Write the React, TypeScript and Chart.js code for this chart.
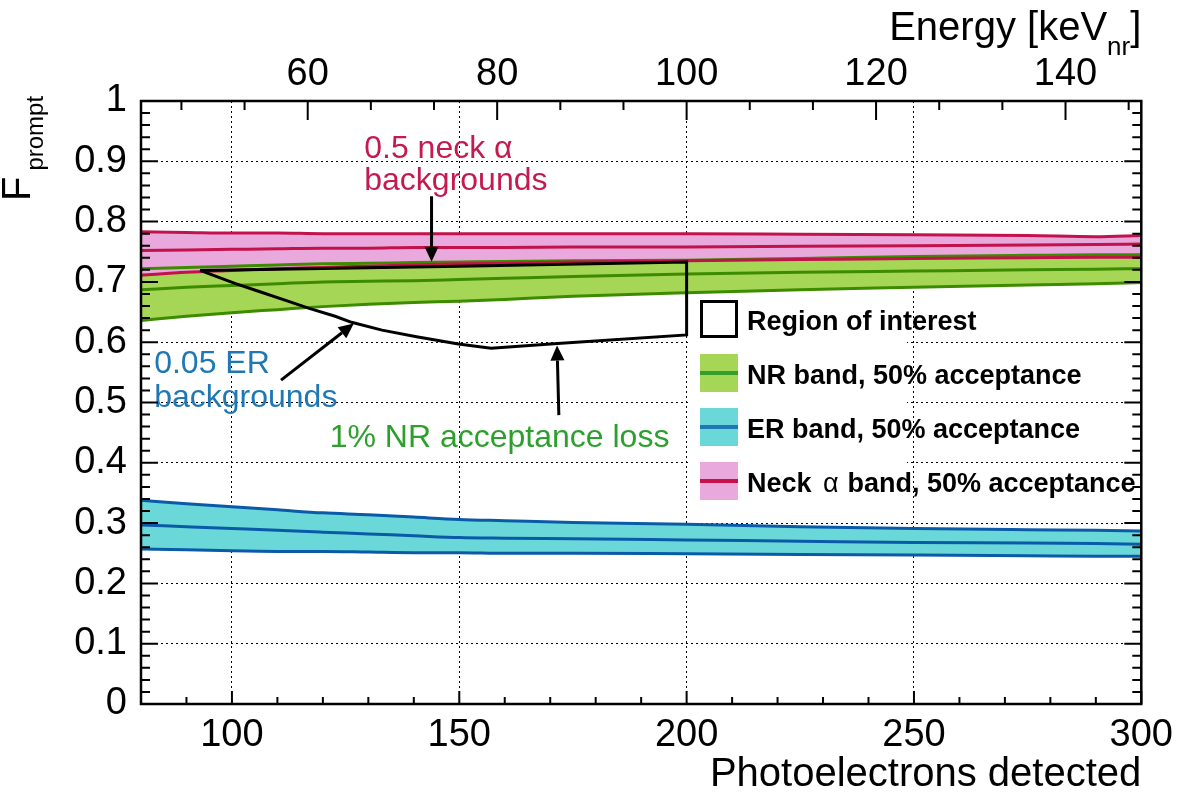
import React, { useEffect, useRef } from "react";
import { Chart, registerables } from "chart.js";
Chart.register(...registerables);

// ---------- data ----------
const PE = [80, 90, 100, 110, 120, 130, 140, 150, 160, 175, 200, 225, 250, 275, 290, 300];
const neckHi = [0.783, 0.782, 0.781, 0.781, 0.78, 0.78, 0.78, 0.78, 0.78, 0.78, 0.78, 0.779, 0.778, 0.777, 0.775, 0.777];
const neckMid = [0.752, 0.753, 0.754, 0.755, 0.756, 0.756, 0.757, 0.757, 0.757, 0.758, 0.758, 0.759, 0.76, 0.761, 0.762, 0.763];
const neckLo = [0.711, 0.716, 0.719, 0.722, 0.724, 0.726, 0.728, 0.73, 0.731, 0.733, 0.735, 0.737, 0.739, 0.74, 0.741, 0.741];
const nrHi = [0.722, 0.724, 0.726, 0.728, 0.73, 0.731, 0.732, 0.733, 0.734, 0.735, 0.736, 0.739, 0.742, 0.744, 0.745, 0.745];
const nrMid = [0.687, 0.691, 0.694, 0.697, 0.7, 0.701, 0.702, 0.704, 0.706, 0.709, 0.713, 0.716, 0.718, 0.72, 0.721, 0.722];
const nrLo = [0.636, 0.643, 0.649, 0.654, 0.659, 0.663, 0.666, 0.668, 0.671, 0.676, 0.682, 0.687, 0.691, 0.695, 0.697, 0.699];
const erHi = [0.338, 0.332, 0.327, 0.322, 0.317, 0.314, 0.31, 0.306, 0.304, 0.301, 0.298, 0.294, 0.291, 0.289, 0.288, 0.287];
const erMid = [0.297, 0.294, 0.291, 0.288, 0.285, 0.282, 0.279, 0.276, 0.275, 0.274, 0.272, 0.27, 0.268, 0.267, 0.266, 0.265];
const erLo = [0.257, 0.256, 0.254, 0.253, 0.253, 0.252, 0.251, 0.251, 0.25, 0.25, 0.249, 0.248, 0.247, 0.246, 0.245, 0.245];

const roiX = [93, 100.8, 106, 112.3, 117, 122.7, 126.3, 133, 140.6, 149.8, 157, 171.6, 200, 200, 150, 93];
const roiY = [0.719, 0.697, 0.684, 0.668, 0.656, 0.643, 0.633, 0.62, 0.609, 0.597, 0.59, 0.598, 0.612, 0.733, 0.726, 0.719];

const xTicks = [100, 150, 200, 250, 300];
const yTicks = [0, 0.1, 0.2, 0.3, 0.4, 0.5, 0.6, 0.7, 0.8, 0.9, 1];
const energyTicks = [60, 80, 100, 120, 140];
const X_MIN = 80;
const X_MAX = 300;
const X_MINOR = 10;
const Y_MINOR = 0.02;
const E_MINOR = 20 / 3;
const toEnergy = (pe: number) => 100 + (pe - 200) * 0.48;

// arrows: [xFrom, yFrom, xTo, yTo]
const arrowNeck = [143.9, 0.842, 143.9, 0.7335];
const arrowER = [110.8, 0.537, 126.8, 0.631];
const arrowNR = [171.9, 0.479, 171.5, 0.5945];

const annotations = [
  { text: "0.5 neck \u03b1", x: 129.1, y: 0.905, color: "#c41a50" },
  { text: "backgrounds", x: 129.1, y: 0.852, color: "#c41a50" },
  { text: "0.05 ER", x: 82.9, y: 0.549, color: "#1f78b4" },
  { text: "backgrounds", x: 82.9, y: 0.493, color: "#1f78b4" },
  { text: "1% NR acceptance loss", x: 121.5, y: 0.426, color: "#2ca02c" },
];

const FONT = "'Liberation Sans', Arial, sans-serif";

const pts = (ys: number[]) => PE.map((x, i) => ({ x, y: ys[i] }));

const C = {
  neckFill: "#eaa9dd",
  neckLine: "#c2124c",
  nrFill: "#a6d655",
  nrLine: "#3d8c00",
  erFill: "#6ad8d8",
  erLine: "#0b5aa8",
};

const smooth = { cubicInterpolationMode: "monotone" as const };

const helper = (ys: number[], order: number) => ({
  data: pts(ys),
  borderWidth: 0,
  borderColor: "rgba(0,0,0,0)",
  pointRadius: 0,
  fill: false,
  order,
  ...smooth,
});
const filler = (ys: number[], target: number, color: string, order: number) => ({
  data: pts(ys),
  borderWidth: 0,
  borderColor: "rgba(0,0,0,0)",
  backgroundColor: color,
  pointRadius: 0,
  fill: { target },
  order,
  ...smooth,
});
const line = (ys: number[], color: string, order: number) => ({
  data: pts(ys),
  borderWidth: 3,
  borderColor: color,
  pointRadius: 0,
  fill: false,
  order,
  ...smooth,
});

function drawArrow(ctx: CanvasRenderingContext2D, x0: number, y0: number, x1: number, y1: number) {
  const ang = Math.atan2(y1 - y0, x1 - x0);
  const L = 15, W = 7;
  const bx = x1 - L * Math.cos(ang), by = y1 - L * Math.sin(ang);
  ctx.beginPath();
  ctx.moveTo(x0, y0);
  ctx.lineTo(bx, by);
  ctx.stroke();
  ctx.beginPath();
  ctx.moveTo(x1, y1);
  ctx.lineTo(bx + W * Math.sin(ang), by - W * Math.cos(ang));
  ctx.lineTo(bx - W * Math.sin(ang), by + W * Math.cos(ang));
  ctx.closePath();
  ctx.fill();
}

const overlayPlugin = {
  id: "overlay",
  afterDatasetsDraw(chart: any) {
    const ctx: CanvasRenderingContext2D = chart.ctx;
    const xs = chart.scales.x, ys = chart.scales.y;
    ctx.save();
    // arrows
    ctx.strokeStyle = "#000";
    ctx.fillStyle = "#000";
    ctx.lineWidth = 3;
    for (const a of [arrowNeck, arrowER, arrowNR]) {
      drawArrow(ctx, xs.getPixelForValue(a[0]), ys.getPixelForValue(a[1]), xs.getPixelForValue(a[2]), ys.getPixelForValue(a[3]));
    }
    // annotations
    ctx.font = `32px ${FONT}`;
    ctx.textAlign = "left";
    ctx.textBaseline = "alphabetic";
    for (const t of annotations) {
      ctx.fillStyle = t.color;
      ctx.fillText(t.text, xs.getPixelForValue(t.x), ys.getPixelForValue(t.y));
    }
    // legend
    ctx.fillStyle = "#fff";
    ctx.fillRect(690, 296, 217, 210);
    const rows = [
      { top: 300, label: "Region of interest", fill: null, line: null },
      { top: 354, label: "NR band, 50% acceptance", fill: C.nrFill, line: "#33a02c" },
      { top: 408, label: "ER band, 50% acceptance", fill: C.erFill, line: "#1f77b4" },
      { top: 462, label: "Neck", fill: C.neckFill, line: "#c8104a" },
    ];
    for (const r of rows) {
      if (r.fill) {
        ctx.fillStyle = r.fill;
        ctx.fillRect(700, r.top, 38, 38);
        ctx.fillStyle = r.line as string;
        ctx.fillRect(700, r.top + 17, 38, 4);
      } else {
        ctx.strokeStyle = "#000";
        ctx.lineWidth = 3;
        ctx.strokeRect(701.5, r.top + 1.5, 35, 35);
      }
      ctx.fillStyle = "#000";
      ctx.font = `bold 27px ${FONT}`;
      const by = r.top + 30;
      ctx.fillText(r.label, 747, by);
      if (r.label === "Neck") {
        ctx.font = `27px ${FONT}`;
        ctx.fillText("\u03b1", 823, by);
        ctx.font = `bold 27px ${FONT}`;
        ctx.fillText(" band, 50% acceptance", 840, by);
      }
    }
    ctx.restore();
  },
  afterDraw(chart: any) {
    const ctx: CanvasRenderingContext2D = chart.ctx;
    const { left, right, top, bottom } = chart.chartArea;
    const xs = chart.scales.x, ys = chart.scales.y, es = chart.scales.x2;
    ctx.save();
    ctx.strokeStyle = "#000";
    ctx.lineWidth = 2;
    ctx.beginPath();
    // bottom ticks
    for (let v = X_MIN; v <= X_MAX + 1e-6; v += X_MINOR) {
      const p = xs.getPixelForValue(v);
      const major = Math.abs(v % 50) < 1e-6;
      const len = major ? 13 : 7;
      ctx.moveTo(p, bottom);
      ctx.lineTo(p, bottom - len);
    }
    // left/right ticks
    for (let k = 0; k <= 50; k++) {
      const v = k * Y_MINOR;
      const p = ys.getPixelForValue(v);
      const len = k % 5 === 0 ? 17 : 9;
      ctx.moveTo(left, p);
      ctx.lineTo(left + len, p);
      ctx.moveTo(right, p);
      ctx.lineTo(right - len, p);
    }
    // top energy ticks
    const eMin = toEnergy(X_MIN), eMax = toEnergy(X_MAX);
    for (let k = 0; k < 40; k++) {
      const e = 40 + k * E_MINOR;
      if (e < eMin || e > eMax) continue;
      const p = es.getPixelForValue(e);
      const major = Math.abs(e / 20 - Math.round(e / 20)) < 1e-6;
      const len = major ? 19 : 9;
      ctx.moveTo(p, top);
      ctx.lineTo(p, top + len);
    }
    ctx.stroke();
    // frame
    ctx.lineWidth = 2.5;
    ctx.strokeRect(left, top, right - left, bottom - top);
    // titles
    ctx.fillStyle = "#000";
    ctx.textBaseline = "alphabetic";
    ctx.font = `40px ${FONT}`;
    ctx.textAlign = "right";
    ctx.fillText("Photoelectrons detected", right, 786);
    // Energy title with subscript
    const main = "Energy [keV";
    ctx.textAlign = "left";
    const wB = ctx.measureText("]").width;
    const wMain = ctx.measureText(main).width;
    ctx.font = `26px ${FONT}`;
    const wNr = ctx.measureText("nr").width;
    const xB = right - wB;
    const xNr = xB - wNr;
    const xMain = xNr - wMain;
    ctx.fillText("nr", xNr, 55);
    ctx.font = `40px ${FONT}`;
    ctx.fillText(main, xMain, 40);
    ctx.fillText("]", xB, 40);
    // y title
    ctx.translate(30, 201);
    ctx.rotate(-Math.PI / 2);
    ctx.font = `40px ${FONT}`;
    ctx.fillText("F", 0, 0);
    const wF = ctx.measureText("F").width;
    ctx.font = `24px ${FONT}`;
    ctx.fillText("prompt", wF + 6, 13);
    ctx.restore();
  },
};

export default function App() {
  const ref = useRef<HTMLCanvasElement | null>(null);
  useEffect(() => {
    if (!ref.current) return;
    const tickFont = { family: FONT, size: 38 };
    const chart = new Chart(ref.current, {
      type: "line",
      data: {
        datasets: [
          helper(erHi, 100) as any,
          filler(erLo, 0, C.erFill, 100),
          helper(nrHi, 90),
          filler(nrLo, 2, C.nrFill, 90),
          helper(neckHi, 80),
          filler(neckLo, 4, C.neckFill, 80),
          line(erHi, C.erLine, 50),
          line(erMid, C.erLine, 50),
          line(erLo, C.erLine, 50),
          line(nrHi, C.nrLine, 45),
          line(nrMid, C.nrLine, 45),
          line(nrLo, C.nrLine, 45),
          line(neckHi, C.neckLine, 40),
          line(neckMid, C.neckLine, 40),
          line(neckLo, C.neckLine, 40),
          {
            data: roiX.map((x, i) => ({ x, y: roiY[i] })),
            borderColor: "#000",
            borderWidth: 3,
            pointRadius: 0,
            fill: false,
            order: 10,
          },
        ],
      },
      options: {
        animation: false,
        responsive: false,
        maintainAspectRatio: false,
        layout: { padding: { left: 0, right: 37, top: 0, bottom: 0 } },
        plugins: { legend: { display: false }, tooltip: { enabled: false } },
        elements: { line: { tension: 0 } },
        scales: {
          x: {
            type: "linear",
            position: "bottom",
            min: X_MIN,
            max: X_MAX,
            afterBuildTicks: (s: any) => { s.ticks = xTicks.map((value) => ({ value })); },
            afterFit: (s: any) => { s.height = 96; },
            ticks: { font: tickFont, color: "#000", padding: 9, maxRotation: 0, autoSkip: false },
            grid: { color: "#000", lineWidth: 1, drawTicks: false },
            border: { display: false, dash: [2, 3] },
          },
          x2: {
            type: "linear",
            position: "top",
            min: toEnergy(X_MIN),
            max: toEnergy(X_MAX),
            afterBuildTicks: (s: any) => { s.ticks = energyTicks.map((value) => ({ value })); },
            afterFit: (s: any) => { s.height = 101; },
            ticks: { font: tickFont, color: "#000", padding: 4, maxRotation: 0, autoSkip: false },
            grid: { display: false, drawTicks: false },
            border: { display: false },
          },
          y: {
            type: "linear",
            position: "left",
            min: 0,
            max: 1,
            afterBuildTicks: (s: any) => { s.ticks = yTicks.map((value) => ({ value })); },
            afterFit: (s: any) => { s.width = 141; },
            ticks: {
              font: tickFont,
              color: "#000",
              padding: 14,
              autoSkip: false,
              callback: (v: any) => String(Math.round(Number(v) * 10) / 10),
            },
            grid: { color: "#000", lineWidth: 1, drawTicks: false },
            border: { display: false, dash: [2, 3] },
          },
        },
      } as any,
      plugins: [overlayPlugin],
    });
    return () => chart.destroy();
  }, []);
  return (
    <div style={{ position: "fixed", left: 0, top: 0, width: 1182, height: 800, background: "#fff" }}>
      <canvas ref={ref} width={1182} height={800} style={{ width: 1182, height: 800, display: "block" }} />
    </div>
  );
}
